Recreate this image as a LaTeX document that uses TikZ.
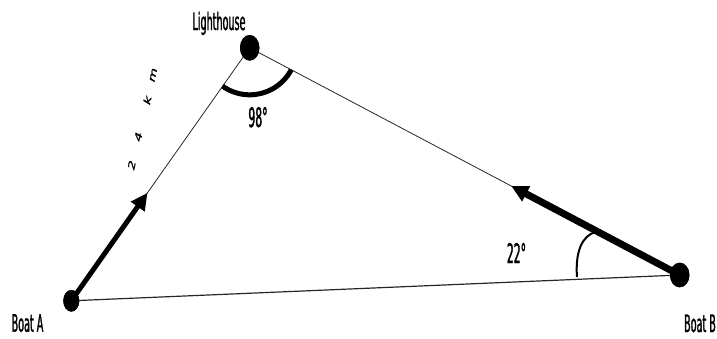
\documentclass[tikz,border=0pt]{standalone}
\usepackage{fontspec}
\setmainfont{DejaVu Sans}
\newfontfamily\narrowf[FakeStretch=0.4,FakeBold=1.2]{DejaVu Sans}
\newfontfamily\distf[FakeBold=1.5]{DejaVu Sans}
\usetikzlibrary{shapes.geometric,arrows.meta,calc}
\tikzset{
  dot/.style={ellipse,fill=black,inner sep=0pt},
  thinline/.style={line width=0.8pt,draw=black!85},
  baseline/.style={line width=1.2pt,draw=black!85},
  thickarrow/.style={line width=#1,-{Triangle[length=17pt,width=16pt]}},
  anglearc/.style={line width=5pt},
  lbl/.style={inner sep=0pt,anchor=base,font=\narrowf\fontsize{24}{24}\selectfont},
  numlbl/.style={inner sep=0pt,anchor=base,font=\narrowf\fontsize{27}{27}\selectfont},
  dist/.style={inner sep=0pt,xscale=0.6,rotate=70,font=\distf\fontsize{15}{15}\selectfont}
}
\begin{document}
\begin{tikzpicture}[x=1pt,y=1pt]
\useasboundingbox (0,0) rectangle (717,-338);
% points
\node[dot,minimum width=19.4pt,minimum height=25.6pt] (L) at (249.7,-47.8) {};
\node[dot,minimum width=16pt,minimum height=21.6pt] (A) at (71.3,-300.8) {};
\node[dot,minimum width=19.4pt,minimum height=24.6pt] (B) at (679.7,-275) {};
% thin connecting lines
\draw[thinline] (L.center) -- (A.center);
\draw[thinline] (L.center) -- (B.center);
\draw[baseline] (A.center) -- (B.center);
% thick arrows along the sides
\coordinate (tipA) at ($(A.center)!0.427!(L.center)$);
\coordinate (tipB) at ($(B.center)!0.392!(L.center)$);
\draw[thickarrow=5pt] (A.center) -- (tipA);
\draw[thickarrow=7pt] (B.center) -- (tipB);
% redraw dots on top
\node[dot,minimum width=19.4pt,minimum height=25.6pt] at (L.center) {};
\node[dot,minimum width=16pt,minimum height=21.6pt] at (A.center) {};
\node[dot,minimum width=19.4pt,minimum height=24.6pt] at (B.center) {};
% angle at lighthouse
\draw[anglearc] ([shift={(234.5:47)}]L.center) arc[start angle=234.5,end angle=332.2,radius=47];
% angle at boat B
\draw[line width=2pt] (595,-232) .. controls (583,-236) and (575,-250) .. (577,-277);
% labels
\node[lbl] (tL) at (219,-30) {Lighthouse};
\node[numlbl] (t98) at (258,-127) {98°};
\node[numlbl] (t22) at (516.5,-263) {22°};
\node[lbl] (tA) at (27.5,-331.7) {Boat A};
\node[lbl] (tB) at (700,-332) {Boat B};
% distance text
\node[dist] (d1) at (131.7,-165) {2};
\node[dist] (d2) at (138.3,-136.7) {4};
\node[dist] (d3) at (147.3,-100) {k};
\node[dist] (d4) at (153.3,-75) {m};
\end{tikzpicture}
\end{document}
